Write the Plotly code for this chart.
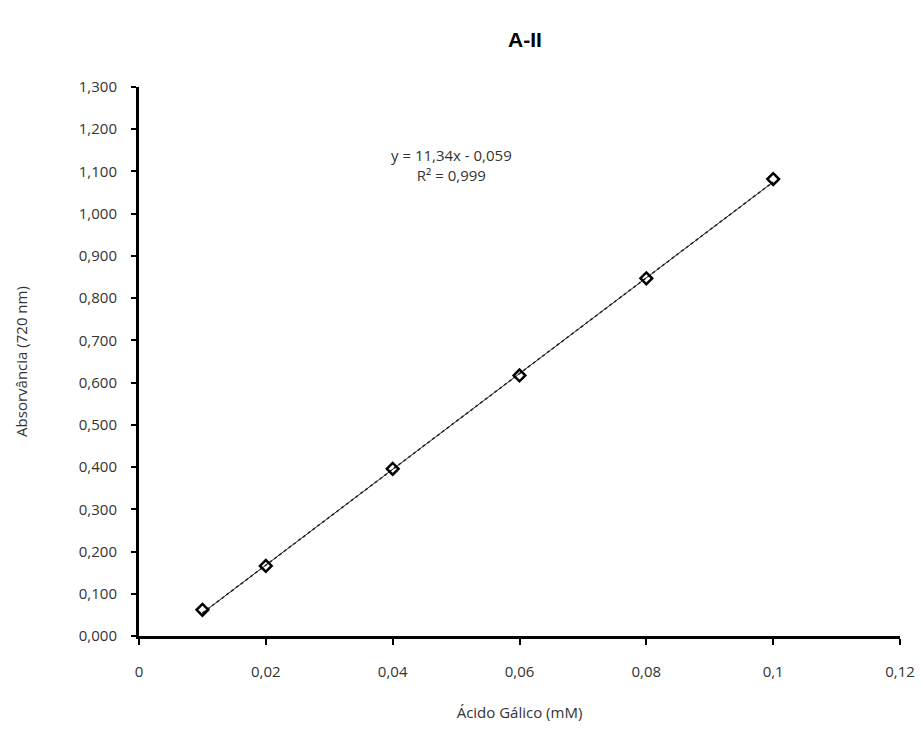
import plotly.graph_objects as go

conc = [0.01, 0.02, 0.04, 0.06, 0.08, 0.10]
absorb = [0.062, 0.166, 0.396, 0.617, 0.847, 1.082]

slope = 11.34
intercept = -0.059
fit_x = [0.01, 0.10]
fit_y = [slope * v + intercept for v in fit_x]

x_tickvals = [0, 0.02, 0.04, 0.06, 0.08, 0.10, 0.12]
x_ticktext = ["0", "0,02", "0,04", "0,06", "0,08", "0,1", "0,12"]
y_tickvals = [i / 10 for i in range(14)]
y_ticktext = ["0,000", "0,100", "0,200", "0,300", "0,400", "0,500", "0,600",
              "0,700", "0,800", "0,900", "1,000", "1,100", "1,200", "1,300"]

font_family = "Open Sans, Liberation Sans, sans-serif"

fig = go.Figure()
fig.add_trace(go.Scatter(x=fit_x, y=fit_y, mode="lines",
                         line=dict(color="#222222", width=1.5, dash="dot"),
                         showlegend=False, hoverinfo="skip"))
fig.add_trace(go.Scatter(x=fit_x, y=fit_y, mode="lines",
                         line=dict(color="#222222", width=1),
                         showlegend=False, hoverinfo="skip"))
fig.add_trace(go.Scatter(x=conc, y=absorb, mode="markers",
                         marker=dict(symbol="diamond-open", size=9,
                                     color="#000000", line=dict(width=2.5)),
                         showlegend=False))

fig.add_annotation(x=0.0492, y=1.116, xref="x", yref="y",
                   text="y = 11,34x - 0,059<br>R² = 0,999", showarrow=False,
                   font=dict(family=font_family, size=15, color="#333333"),
                   align="center")

fig.update_layout(
    width=923, height=734,
    margin=dict(l=129, r=31, t=79, b=106),
    paper_bgcolor="white", plot_bgcolor="white",
    title=dict(text="<b>A-II</b>", x=517 / 923, xanchor="center",
               y=1 - 32 / 734, yanchor="middle",
               font=dict(family="Liberation Sans, Arial, sans-serif", size=21, color="#000000")),
    font=dict(family=font_family, size=15, color="#333333"),
    xaxis=dict(range=[0, 0.12], tickvals=x_tickvals, ticktext=x_ticktext,
               showgrid=False, zeroline=False, showline=True,
               linecolor="#000000", linewidth=3, ticks="outside",
               ticklen=6, tickwidth=2, tickcolor="#000000",
               ticklabelstandoff=14,
               title=dict(text="Ácido Gálico (mM)", standoff=28,
                          font=dict(size=15, color="#333333"))),
    yaxis=dict(range=[0, 1.3], tickvals=y_tickvals, ticktext=y_ticktext,
               showgrid=False, zeroline=False, showline=True,
               linecolor="#000000", linewidth=3, ticks="outside",
               ticklen=5, tickwidth=2, tickcolor="#000000",
               ticklabelstandoff=11,
               title=dict(text="Absorvância (720 nm)", standoff=48,
                          font=dict(size=15, color="#333333"))),
)

fig.write_html("out.html")
